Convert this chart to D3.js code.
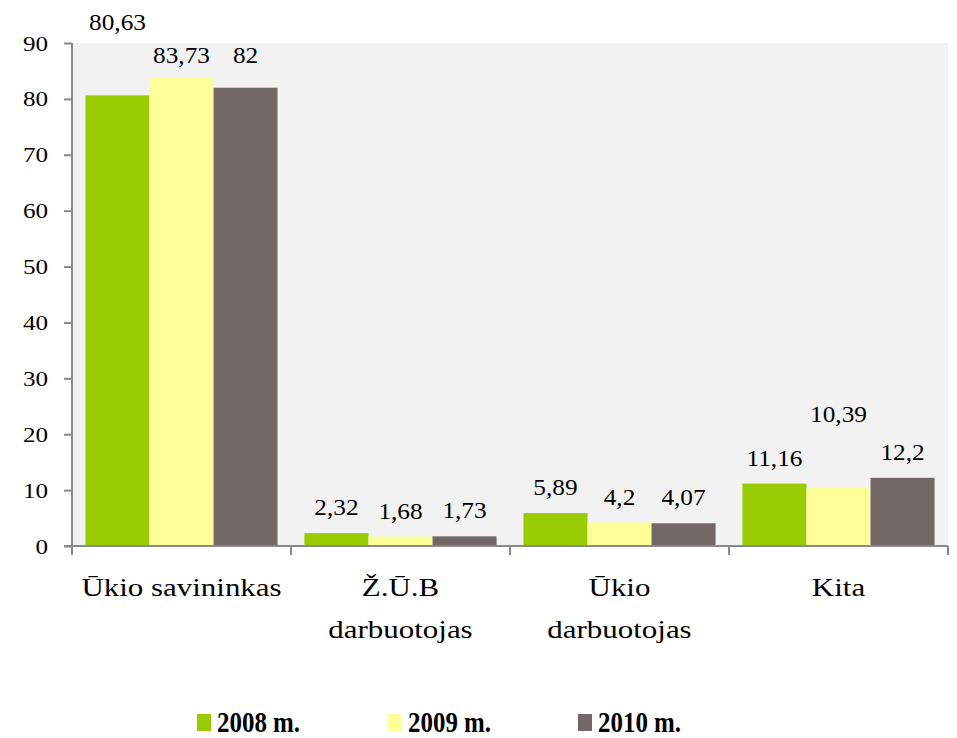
<!DOCTYPE html>
<html>
<head>
<meta charset="utf-8">
<script src="https://cdn.jsdelivr.net/npm/d3@7"></script>
<style>
  body { margin: 0; background: #fff; }
</style>
</head>
<body>
<div id="chart"></div>
<script>
// data
var categories = [["Ūkio savininkas"], ["Ž.Ū.B", "darbuotojas"], ["Ūkio", "darbuotojas"], ["Kita"]];
var series = ["2008 m.", "2009 m.", "2010 m."];
var values2008 = [80.63, 2.32, 5.89, 11.16];
var values2009 = [83.73, 1.68, 4.2, 10.39];
var values2010 = [82, 1.73, 4.07, 12.2];
var yTicks = [0, 10, 20, 30, 40, 50, 60, 70, 80, 90];

var colors = ["#99cc00", "#ffff99", "#736866"];
// extra lift (px) of some value labels, as placed in the original
var labelLift = [[47, -3, 7], [0, 0, 0], [0, 0, 0], [0, 48, 0]];

var allValues = [values2008, values2009, values2010];
var FONT = "Liberation Serif";

var width = 957, height = 738;
var margin = {top: 43, right: 9, bottom: 192, left: 72};

var svg = d3.select("#chart")
  .append("svg")
  .attr("width", width)
  .attr("height", height)
  .style("font-family", FONT);

var catKeys = categories.map(function(d, i) { return i; });

var x0 = d3.scaleBand()
  .domain(catKeys)
  .range([margin.left, width - margin.right])
  .paddingInner(0)
  .paddingOuter(0);

var x1 = d3.scaleBand()
  .domain(d3.range(series.length))
  .range([0, x0.bandwidth()])
  .paddingInner(0)
  .paddingOuter(0.21);

var y = d3.scaleLinear()
  .domain([0, 90])
  .range([height - margin.bottom, margin.top]);

// plot background
svg.append("rect")
  .attr("x", margin.left)
  .attr("y", margin.top)
  .attr("width", width - margin.right - margin.left)
  .attr("height", y(0) - margin.top)
  .attr("fill", "#f2f2f2");

// bars
var groups = svg.selectAll(".grp")
  .data(catKeys)
  .enter()
  .append("g")
  .attr("class", "grp")
  .attr("transform", function(d) { return "translate(" + x0(d) + ",0)"; });

function cells(c) {
  return allValues.map(function(v, s) { return {c: c, s: s, v: v[c]}; });
}

groups.selectAll("rect")
  .data(cells)
  .enter()
  .append("rect")
  .attr("x", function(d) { return x1(d.s); })
  .attr("y", function(d) { return y(d.v); })
  .attr("width", x1.bandwidth())
  .attr("height", function(d) { return y(0) - y(d.v); })
  .attr("fill", function(d) { return colors[d.s]; });

// value labels
groups.selectAll(".val")
  .data(cells)
  .enter()
  .append("text")
  .attr("class", "val")
  .attr("transform", function(d) {
    var cx = x1(d.s) + x1.bandwidth() / 2;
    var cy = y(d.v) - 18 - labelLift[d.c][d.s];
    return "translate(" + cx + "," + cy + ") scale(1.1,1)";
  })
  .attr("text-anchor", "middle")
  .style("font-family", FONT)
  .style("font-size", "23px")
  .text(function(d) { return String(d.v).replace(".", ","); });

// y axis
var yAxis = svg.append("g")
  .attr("transform", "translate(" + margin.left + ",0)")
  .call(d3.axisLeft(y).tickValues(yTicks).tickSize(8).tickPadding(16));
yAxis.attr("font-family", null);
yAxis.selectAll("text")
  .attr("x", null)
  .attr("transform", "translate(-24,0) scale(1.14,1)")
  .style("font-size", "22px")
  .style("font-family", FONT)
  .attr("fill", "#000");
yAxis.selectAll("line").attr("stroke", "#898989").attr("stroke-width", 2);
yAxis.select(".domain").attr("stroke", "#898989").attr("stroke-width", 2)
  .attr("d", "M0," + margin.top + "V" + y(0));

// x axis line with boundary ticks
var xAxis = svg.append("g");
xAxis.append("line")
  .attr("x1", margin.left - 8)
  .attr("x2", width - margin.right)
  .attr("y1", y(0))
  .attr("y2", y(0))
  .attr("stroke", "#898989")
  .attr("stroke-width", 2);
var bounds = catKeys.map(function(d) { return x0(d); }).concat([x0(catKeys[catKeys.length - 1]) + x0.bandwidth()]);
xAxis.selectAll(".bt")
  .data(bounds)
  .enter()
  .append("line")
  .attr("x1", function(d) { return d; })
  .attr("x2", function(d) { return d; })
  .attr("y1", y(0))
  .attr("y2", y(0) + 9)
  .attr("stroke", "#898989")
  .attr("stroke-width", 2);

// category labels
var catLines = [];
categories.forEach(function(lines, c) {
  lines.forEach(function(t, i) { catLines.push({c: c, i: i, t: t}); });
});
svg.selectAll(".cat")
  .data(catLines)
  .enter()
  .append("text")
  .attr("class", "cat")
  .attr("text-anchor", "middle")
  .attr("transform", function(d) {
    return "translate(" + (x0(d.c) + x0.bandwidth() / 2) + "," + (596 + d.i * 42) + ") scale(1.19,1)";
  })
  .style("font-family", FONT)
  .style("font-size", "26px")
  .text(function(d) { return d.t; });

// legend
var legendX = [197, 388, 578];
var legend = svg.selectAll(".legend")
  .data(series)
  .enter()
  .append("g")
  .attr("class", "legend")
  .attr("transform", function(d, i) { return "translate(" + legendX[i] + ",714)"; });

legend.append("rect")
  .attr("width", 14)
  .attr("height", 17)
  .attr("fill", function(d, i) { return colors[i]; });

legend.append("text")
  .attr("transform", "translate(20,18) scale(0.86,1)")
  .style("font-family", FONT)
  .style("font-size", "29px")
  .style("font-weight", "bold")
  .text(function(d) { return d; });
</script>
</body>
</html>
